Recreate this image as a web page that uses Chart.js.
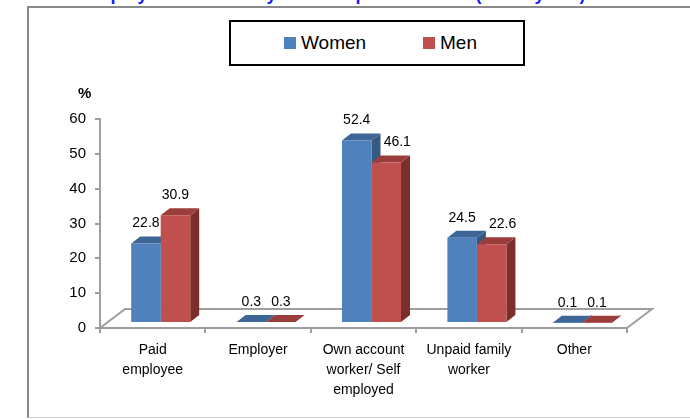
<!DOCTYPE html>
<html>
<head>
<meta charset="utf-8">
<script src="https://cdn.jsdelivr.net/npm/chart.js@4.4.1/dist/chart.umd.min.js"></script>
<style>
  html, body { margin: 0; padding: 0; background: #fff; overflow: hidden; }
  body { width: 690px; height: 419px; position: relative; font-family: "Liberation Sans", Arial, sans-serif; }
  #title { position: absolute; left: 0; top: -16px; width: 668px; text-align: center; font: bold 18px/20px "Liberation Sans", Arial, sans-serif; color: #1a1aff; white-space: nowrap; }
  #frame { position: absolute; left: 27px; top: 6px; width: 700px; height: 409px; border-left: 2px solid #8a8a8a; border-top: 2px solid #8a8a8a; border-bottom: 1px solid #d0d0d0; box-sizing: content-box; }
  #chart { position: absolute; left: 0; top: 0; }
  #legend { position: absolute; left: 229px; top: 20px; width: 292px; height: 42px; border: 2px solid #000; background: #fff; }
  .lg { position: absolute; top: 11px; font-size: 19px; line-height: 20px; color: #000; }
  .sw { position: absolute; top: 15px; width: 12px; height: 12px; }
  #pct { position: absolute; left: 78px; top: 84px; font: bold 15px/18px "Liberation Sans", Arial, sans-serif; color: #000; }
</style>
</head>
<body>
<div id="title">Employment Status by Sex and place of work (in % by sex)</div>
<div id="frame"></div>
<canvas id="chart" width="690" height="419"></canvas>
<div id="legend">
  <div class="sw" style="left:53px;background:#4F81BD"></div><div class="lg" style="left:70px">Women</div>
  <div class="sw" style="left:192px;background:#C0504D"></div><div class="lg" style="left:209px">Men</div>
</div>
<div id="pct">%</div>
<script>
const categories = [["Paid", "employee"], ["Employer"], ["Own account", "worker/ Self", "employed"], ["Unpaid family", "worker"], ["Other"]];
const women = [22.8, 0.3, 52.4, 24.5, 0.1];
const men = [30.9, 0.3, 46.1, 22.6, 0.1];
const yTicks = [0, 10, 20, 30, 40, 50, 60];

const AXIS = '#9e9e9e';
const SHIFT_X = 8, SHIFT_Y = 5;   // bar placement inside floor depth
const DX = 9, DY = 7;             // bar depth
const FDX = 25, FDY = 19;         // floor depth
const FONT = '"Liberation Sans", Arial, sans-serif';

const depthPlugin = {
  id: 'depth3d',
  beforeDatasetsDraw(chart) {
    const ctx = chart.ctx;
    const { left, right, bottom } = chart.chartArea;
    ctx.save();
    ctx.strokeStyle = AXIS; ctx.lineWidth = 2; ctx.lineJoin = 'miter';
    ctx.beginPath();
    ctx.moveTo(left, bottom);
    ctx.lineTo(left + FDX, bottom - FDY);
    ctx.lineTo(right + FDX, bottom - FDY);
    ctx.lineTo(right, bottom);
    ctx.stroke();
    ctx.restore();

    ctx.save();
    ctx.translate(SHIFT_X, -SHIFT_Y);
    chart.data.datasets.forEach((ds, i) => {
      chart.getDatasetMeta(i).data.forEach(bar => {
        const p = bar.getProps(['x', 'y', 'base', 'width'], true);
        const l = p.x - p.width / 2, r = p.x + p.width / 2;
        ctx.fillStyle = ds.sideColor;
        ctx.beginPath();
        ctx.moveTo(r, p.y); ctx.lineTo(r + DX, p.y - DY); ctx.lineTo(r + DX, p.base - DY); ctx.lineTo(r, p.base);
        ctx.closePath(); ctx.fill();
        ctx.fillStyle = ds.topColor;
        ctx.beginPath();
        ctx.moveTo(l, p.y); ctx.lineTo(l + DX, p.y - DY); ctx.lineTo(r + DX, p.y - DY); ctx.lineTo(r, p.y);
        ctx.closePath(); ctx.fill();
      });
    });
  },
  afterDatasetsDraw(chart) {
    const ctx = chart.ctx;
    ctx.restore();
    ctx.save();
    ctx.font = '14px ' + FONT;
    ctx.fillStyle = '#000';
    ctx.textAlign = 'center';
    ctx.textBaseline = 'middle';
    const d0 = chart.data.datasets[0].data, d1 = chart.data.datasets[1].data;
    chart.data.datasets.forEach((ds, i) => {
      chart.getDatasetMeta(i).data.forEach((bar, j) => {
        const p = bar.getProps(['x', 'y'], true);
        let x = p.x + SHIFT_X;
        if (i === 1 && d1[j] < d0[j]) x += 11;
        const y = p.y - SHIFT_Y - DY - 13;
        ctx.fillText(ds.data[j].toFixed(1), x, y);
      });
    });
    ctx.restore();
  }
};

new Chart(document.getElementById('chart'), {
  type: 'bar',
  data: {
    labels: categories,
    datasets: [
      { label: 'Women', data: women, backgroundColor: '#4F81BD', topColor: '#3D6595', sideColor: '#36597F', borderWidth: 0 },
      { label: 'Men', data: men, backgroundColor: '#C0504D', topColor: '#9B3D3A', sideColor: '#7B2E2C', borderWidth: 0 }
    ]
  },
  options: {
    responsive: false,
    animation: false,
    events: [],
    layout: { padding: { left: 0, top: 119, right: 63, bottom: 0 } },
    plugins: { legend: { display: false }, tooltip: { enabled: false } },
    datasets: { bar: { barPercentage: 1, categoryPercentage: 0.56 } },
    scales: {
      x: {
        afterFit: s => { s.height = 91; },
        grid: { display: true, drawOnChartArea: false, drawTicks: true, tickLength: 5, color: AXIS, lineWidth: 2, offset: true },
        border: { display: true, color: AXIS, width: 2 },
        ticks: { color: '#000', font: { family: FONT, size: 14, lineHeight: 1.42 }, padding: 7, maxRotation: 0, autoSkip: false }
      },
      y: {
        min: 0, max: 60,
        afterFit: s => { s.width = 100; },
        afterBuildTicks: s => { s.ticks = yTicks.map(v => ({ value: v })); },
        grid: { display: true, drawOnChartArea: false, drawTicks: true, tickLength: 5, color: AXIS, lineWidth: 2 },
        border: { display: true, color: AXIS, width: 2 },
        ticks: { color: '#000', font: { family: FONT, size: 15 }, padding: 9 }
      }
    }
  },
  plugins: [depthPlugin]
});
</script>
</body>
</html>
